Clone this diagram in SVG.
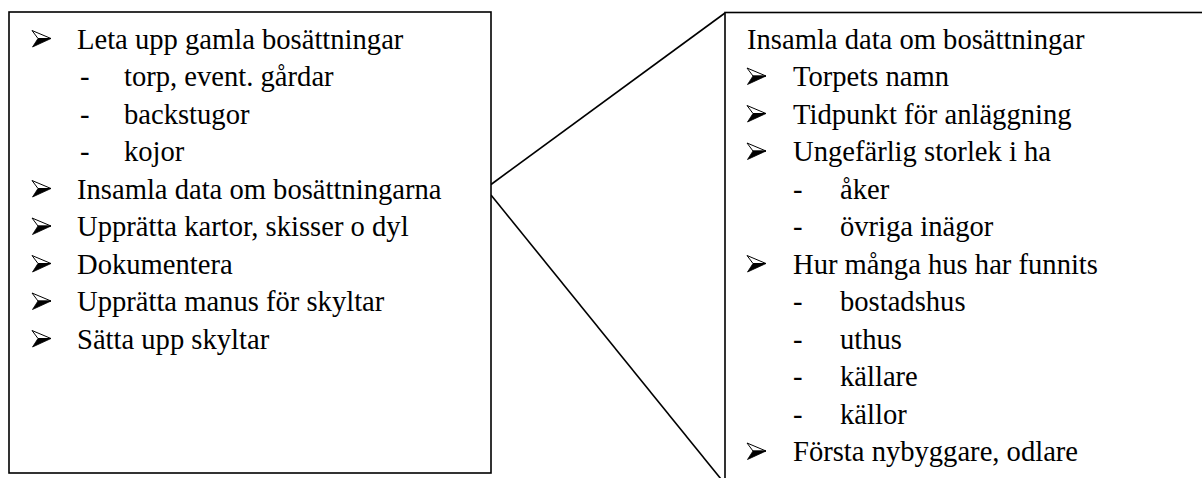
<svg xmlns="http://www.w3.org/2000/svg" xmlns:xlink="http://www.w3.org/1999/xlink" width="1202" height="478" viewBox="0 0 1202 478">
<style>
.box{fill:#fff;stroke:#000;stroke-width:1.6}
.conn{fill:none;stroke:#000;stroke-width:1.6}
.t{font-family:'Liberation Serif','Times New Roman',serif;font-size:28.6px;fill:#000}
</style>
<defs>
<g id="arrow">
<path d="M0,-18 L19,-10 L6,-10 Z" fill="#fff" stroke="#000" stroke-width="1" stroke-linejoin="miter"/>
<path d="M19,-10 L0.5,-1.5 L6,-10 Z" fill="#000" stroke="#000" stroke-width="0.8"/>
</g>
</defs>
<g id="connectors">
<line class="conn" x1="491" y1="184.5" x2="725" y2="13"/>
<line class="conn" x1="491" y1="195" x2="725" y2="484"/>
</g>
<g id="left-node" class="t">
<rect class="box" x="9" y="12" width="482" height="461"/>
<use xlink:href="#arrow" x="32" y="48.5"/>
<text x="77" y="48.5">Leta upp gamla bosättningar</text>
<text x="80" y="86">-</text>
<text x="124" y="86">torp, event. gårdar</text>
<text x="80" y="123.5">-</text>
<text x="124" y="123.5">backstugor</text>
<text x="80" y="161">-</text>
<text x="124" y="161">kojor</text>
<use xlink:href="#arrow" x="32" y="198.5"/>
<text x="77" y="198.5">Insamla data om bosättningarna</text>
<use xlink:href="#arrow" x="32" y="236"/>
<text x="77" y="236">Upprätta kartor, skisser o dyl</text>
<use xlink:href="#arrow" x="32" y="273.5"/>
<text x="77" y="273.5">Dokumentera</text>
<use xlink:href="#arrow" x="32" y="311"/>
<text x="77" y="311">Upprätta manus för skyltar</text>
<use xlink:href="#arrow" x="32" y="348.5"/>
<text x="77" y="348.5">Sätta upp skyltar</text>
</g>
<g id="right-node" class="t">
<rect class="box" x="725" y="12.5" width="500" height="500"/>
<text x="747" y="48.5">Insamla data om bosättningar</text>
<use xlink:href="#arrow" x="747" y="86"/>
<text x="793" y="86">Torpets namn</text>
<use xlink:href="#arrow" x="747" y="123.5"/>
<text x="793" y="123.5">Tidpunkt för anläggning</text>
<use xlink:href="#arrow" x="747" y="161"/>
<text x="793" y="161">Ungefärlig storlek i ha</text>
<text x="793" y="198.5">-</text>
<text x="840" y="198.5">åker</text>
<text x="793" y="236">-</text>
<text x="840" y="236">övriga inägor</text>
<use xlink:href="#arrow" x="747" y="273.5"/>
<text x="793" y="273.5">Hur många hus har funnits</text>
<text x="793" y="311">-</text>
<text x="840" y="311">bostadshus</text>
<text x="793" y="348.5">-</text>
<text x="840" y="348.5">uthus</text>
<text x="793" y="386">-</text>
<text x="840" y="386">källare</text>
<text x="793" y="423.5">-</text>
<text x="840" y="423.5">källor</text>
<use xlink:href="#arrow" x="747" y="461"/>
<text x="793" y="461">Första nybyggare, odlare</text>
</g>
</svg>
